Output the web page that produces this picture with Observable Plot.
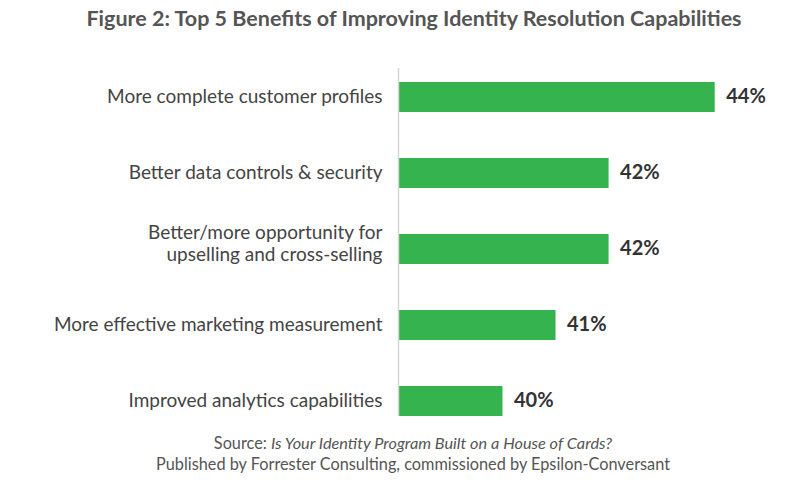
<!DOCTYPE html>
<html>
<head>
<meta charset="utf-8">
<script src="https://cdn.jsdelivr.net/npm/d3@7"></script>
<script src="https://cdn.jsdelivr.net/npm/@observablehq/plot@0.6"></script>
<style>
  html, body { margin: 0; padding: 0; background: #fff; }
  body { width: 800px; height: 485px; overflow: hidden; font-family: Lato, "Open Sans", sans-serif; }
  #title { height: 36px; box-sizing: border-box; padding: 5px 0 0 28px; text-align: center; font-size: 21.5px; font-weight: bold; color: #555; line-height: 26px; }
  #chart svg { display: block; }
  #caption { text-align: center; padding-left: 26px; font-size: 16.3px; color: #555; line-height: 21px; margin-top: 2px; }
</style>
</head>
<body>
<div id="title">Figure 2: Top 5 Benefits of Improving Identity Resolution Capabilities</div>
<div id="chart"></div>
<div id="caption">Source: <i>Is Your Identity Program Built on a House of Cards?</i><br>Published by Forrester Consulting, commissioned by Epsilon-Conversant</div>
<script>
const categories = [
  "More complete customer profiles",
  "Better data controls & security",
  "Better/more opportunity for\nupselling and cross-selling",
  "More effective marketing measurement",
  "Improved analytics capabilities"
];
const values = [44, 42, 42, 41, 40];
const valueLabels = ["44%", "42%", "42%", "41%", "40%"];
const axisStart = 38.05;

const data = categories.map((c, i) => ({label: c, value: values[i], text: valueLabels[i]}));
const singleLine = data.filter(d => !d.label.includes("\n"));
const multiLine = data.filter(d => d.label.includes("\n"));

const labelStyle = {x: axisStart, y: "label", text: "label", textAnchor: "end", dx: -17, fontSize: 19, fill: "#444", lineHeight: 1.16};

const chart = Plot.plot({
  width: 800,
  height: 394,
  marginTop: 32,
  marginBottom: 14,
  marginLeft: 399,
  marginRight: 85,
  style: {fontFamily: "Lato, 'Open Sans', sans-serif", background: "#fff"},
  x: {domain: [axisStart, 44], range: [399, 714.7], axis: null},
  y: {domain: categories, range: [23.2, 403.2], paddingInner: 0.6, paddingOuter: 0.3, axis: null},
  marks: [
    Plot.barX(data, {x1: axisStart, x2: "value", y: "label", fill: "#34b34e"}),
    Plot.ruleX([axisStart], {stroke: "#d6d6d6", strokeWidth: 1.5, dx: -1}),
    Plot.text(singleLine, {...labelStyle, dy: -1.5}),
    Plot.text(multiLine, {...labelStyle, dy: -6.5}),
    Plot.text(data, {x: "value", y: "label", text: "text", textAnchor: "start", dx: 11, dy: -0.5, fontSize: 20, fontWeight: "bold", fill: "#333"})
  ]
});
document.getElementById("chart").appendChild(chart);
</script>
</body>
</html>
